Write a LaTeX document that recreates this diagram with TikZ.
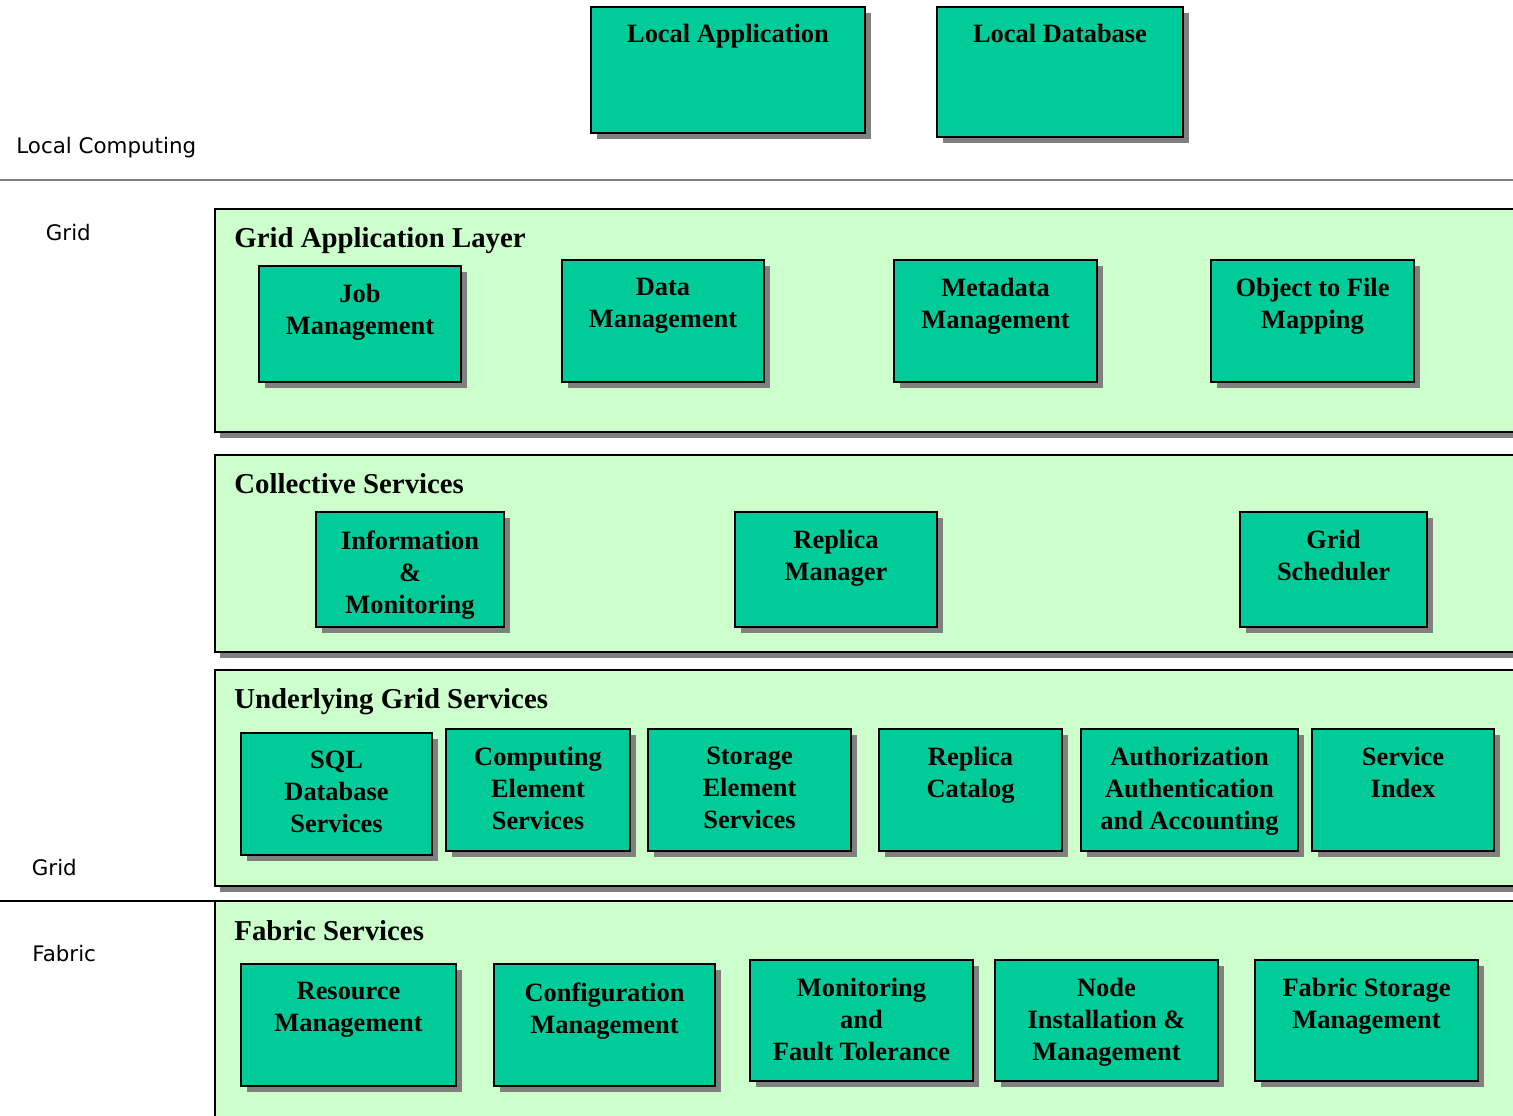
\documentclass[tikz,border=0pt]{standalone}
\usepackage{fontspec}
\setmainfont{Liberation Serif}
\newfontfamily\sidefont{DejaVu Sans}
\usetikzlibrary{fit,shadows}
\definecolor{tealbox}{HTML}{00CC99}
\definecolor{palegreen}{HTML}{CCFFCC}
\definecolor{shadegray}{HTML}{808080}
\tikzset{
 comp/.style={draw=black, line width=1pt, fill=tealbox, inner sep=0pt, outer sep=0pt,
   drop shadow={shadow xshift=3pt, shadow yshift=-3pt, fill=shadegray, opacity=1}},
 comptext/.style={font=\bfseries\fontsize{13.2}{16}\selectfont, align=center, inner sep=0pt, anchor=north},
 panel/.style={draw=black, line width=0.6pt, fill=palegreen, inner sep=0pt, outer sep=0pt,
   drop shadow={shadow xshift=2.5pt, shadow yshift=-3pt, fill=shadegray, opacity=1}},
 paneltitle/.style={font=\bfseries\fontsize{14.4}{17}\selectfont, inner sep=0pt, anchor=north west},
 side/.style={font=\sidefont\fontsize{10.7}{12}\selectfont, inner sep=0pt, anchor=base west},
}
\newcommand\compbox[7][9pt]{%
  \node[comp, fit={(#3,#4) (#5,#6)}] (#2) {};
  \node[comptext] (#2-t) at ([yshift=-#1]#2.north) {#7};}
\begin{document}
\begin{tikzpicture}[x=0.5pt,y=-0.5pt]
\path[use as bounding box] (0,0) rectangle (1513,1115);
\clip (0,0) rectangle (1513,1115);

% local computing
\compbox[8.5pt]{lapp}{591}{7}{865}{133}{Local Application}
\compbox[8.5pt]{ldb}{937}{7}{1183}{137}{Local Database}
\node[side] (lc) at (16,153) {Local Computing};
\coordinate (sepAl) at (0,180);
\coordinate (sepAr) at (1513,180);
\draw[shadegray, line width=0.8pt] (sepAl) -- (sepAr);

\node[side] (gridA) at (45.5,240.5) {Grid};
\node[side] (gridB) at (31.5,875.5) {Grid};
\node[side] (fabric) at (32,961.5) {Fabric};

% panels
\node[panel, fit={(215,209) (1545,432)}] (p1) {};
\node[paneltitle] (p1-t) at (234,227) {Grid Application Layer};
\node[panel, fit={(215,455) (1545,652)}] (p2) {};
\node[paneltitle] (p2-t) at (234,473) {Collective Services};
\node[panel, fit={(215,670) (1545,886)}] (p3) {};
\node[paneltitle] (p3-t) at (234,688) {Underlying Grid Services};
\node[panel, fit={(215,901) (1545,1150)}] (p4) {};
\node[paneltitle] (p4-t) at (234,920) {Fabric Services};
\coordinate (sepBl) at (0,901);
\draw[black, line width=0.6pt] (sepBl) -- (p4.north west);

% grid application layer
\compbox{jm}{259}{266}{461}{382}{Job\\Management}
\compbox{dm}{562}{260}{764}{382}{Data\\Management}
\compbox{mm}{894}{260}{1097}{382}{Metadata\\Management}
\compbox{ofm}{1211}{260}{1414}{382}{Object to File\\Mapping}

% collective services
\compbox{im}{316}{512}{504}{627}{Information\\\&\\Monitoring}
\compbox{rm}{735}{512}{937}{627}{Replica\\Manager}
\compbox{gs}{1240}{512}{1427}{627}{Grid\\Scheduler}

% underlying grid services
\compbox{sql}{241}{733}{432}{855}{SQL\\Database\\Services}
\compbox{ces}{446}{729}{630}{851}{Computing\\Element\\Services}
\compbox{ses}{648}{729}{851}{851}{Storage\\Element\\Services}
\compbox{rc}{879}{729}{1062}{851}{Replica\\Catalog}
\compbox{aaa}{1081}{729}{1298}{851}{Authorization\\Authentication\\and Accounting}
\compbox{si}{1312}{729}{1494}{851}{Service\\Index}

% fabric services
\compbox{resm}{241}{964}{456}{1086}{Resource\\Management}
\compbox{cm}{494}{964}{715}{1086}{Configuration\\Management}
\compbox{mft}{750}{960}{973}{1081}{Monitoring\\and\\Fault Tolerance}
\compbox{nim}{995}{960}{1218}{1081}{Node\\Installation \&\\Management}
\compbox{fsm}{1255}{960}{1478}{1081}{Fabric Storage\\Management}
\end{tikzpicture}
\end{document}
